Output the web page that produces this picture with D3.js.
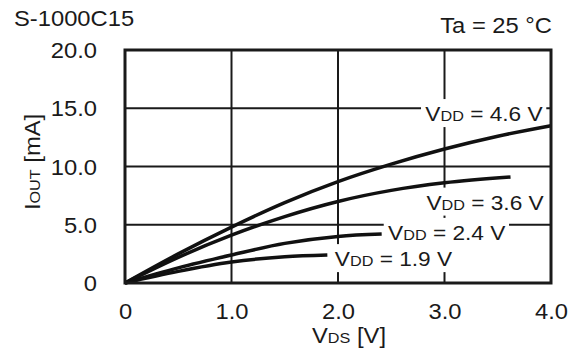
<!DOCTYPE html>
<html>
<head>
<meta charset="utf-8">
<script src="https://cdn.jsdelivr.net/npm/d3@7/dist/d3.min.js"></script>
<style>
    body { margin: 0; background: #fff; }
    svg text { font-family: "Liberation Sans", Arial, Helvetica, sans-serif; fill: #1a1a1a; }
</style>
</head>
<body>
<div id="chart"></div>
<script>
// tick values and labels
const vdsTicks = [0, 1, 2, 3, 4];
const vdsTickLabels = ['0', '1.0', '2.0', '3.0', '4.0'];
const ioutTicks = [0, 5, 10, 15, 20];
const ioutTickLabels = ['0', '5.0', '10.0', '15.0', '20.0'];

// curves (VDS [V] -> IOUT [mA])
const vddNames = ['4.6', '3.6', '2.4', '1.9'];
const vds46 = [0, 0.5, 1.0, 1.5, 2.0, 2.5, 3.0, 3.5, 4.0];
const iout46 = [0, 2.5, 4.8, 6.9, 8.7, 10.2, 11.5, 12.6, 13.5];
const vds36 = [0, 0.5, 1.0, 1.5, 2.0, 2.5, 3.0, 3.62];
const iout36 = [0, 2.2, 4.1, 5.7, 7.0, 7.95, 8.6, 9.1];
const vds24 = [0, 0.5, 1.0, 1.5, 2.0, 2.41];
const iout24 = [0, 1.3, 2.4, 3.4, 4.0, 4.2];
const vds19 = [0, 0.5, 1.0, 1.5, 1.9];
const iout19 = [0, 1.0, 1.8, 2.25, 2.4];

// where each VDD label sits (data units: start VDS, baseline IOUT)
const labelAt = [[2.82, 13.9], [2.83, 6.3], [2.47, 3.7], [1.97, 1.45]];

const W = 581, H = 360;
const SX = 1.08; // source lettering is slightly wide
const plot = { left: 125, right: 551, top: 50, bottom: 283 };

const svg = d3.select('#chart').append('svg')
    .attr('width', W)
    .attr('height', H);

const x = d3.scaleLinear().domain([0, 4]).range([plot.left, plot.right]);
const y = d3.scaleLinear().domain([0, 20]).range([plot.bottom, plot.top]);

// grid
const grid = svg.append('g').attr('stroke', '#1a1a1a').attr('stroke-width', 2);
grid.selectAll('.vg').data(vdsTicks.slice(1, -1)).enter().append('line')
    .attr('x1', d => x(d)).attr('x2', d => x(d))
    .attr('y1', plot.top).attr('y2', plot.bottom);
grid.selectAll('.hg').data(ioutTicks.slice(1, -1)).enter().append('line')
    .attr('y1', d => y(d)).attr('y2', d => y(d))
    .attr('x1', plot.left).attr('x2', plot.right);

const boxLayer = svg.append('g');

// curves
const series = [
    { name: vddNames[0], vds: vds46, iout: iout46 },
    { name: vddNames[1], vds: vds36, iout: iout36 },
    { name: vddNames[2], vds: vds24, iout: iout24 },
    { name: vddNames[3], vds: vds19, iout: iout19 }
];
const line = d3.line()
    .x(d => x(d[0]))
    .y(d => y(d[1]))
    .curve(d3.curveMonotoneX);

svg.append('g').selectAll('path')
    .data(series)
    .enter()
    .append('path')
    .attr('d', s => line(s.vds.map((v, i) => [v, s.iout[i]])))
    .attr('fill', 'none')
    .attr('stroke', '#111')
    .attr('stroke-width', 3.5);

// VDD labels with white boxes that cut the grid
series.forEach((s, i) => {
    const pos = labelAt[i];
    const tr = `translate(${x(pos[0])},${y(pos[1])}) scale(${SX},1)`;
    const g = svg.append('g').attr('transform', tr);
    const t = g.append('text').attr('font-size', 21);
    t.append('tspan').text('V');
    t.append('tspan').attr('font-size', 15).text('DD');
    t.append('tspan').text(` = ${s.name} V`);
    const bb = t.node().getBBox();
    boxLayer.append('rect')
        .attr('transform', tr)
        .attr('x', bb.x - 4)
        .attr('y', -22)
        .attr('width', bb.width + 7)
        .attr('height', 28)
        .attr('fill', '#fff');
});

// axes (labels only, grid drawn above)
const xAxis = svg.append('g')
    .attr('transform', `translate(0,${plot.bottom})`)
    .call(d3.axisBottom(x).tickValues(vdsTicks).tickSize(0)
        .tickFormat((d, i) => vdsTickLabels[i]));
xAxis.select('.domain').remove();
xAxis.selectAll('text')
    .attr('y', 20)
    .attr('dy', '0.71em')
    .attr('font-size', 22)
    .attr('fill', '#1a1a1a')
    .attr('transform', `scale(${SX},1)`);

const yAxis = svg.append('g')
    .attr('transform', `translate(${plot.left},0)`)
    .call(d3.axisLeft(y).tickValues(ioutTicks).tickSize(0)
        .tickFormat((d, i) => ioutTickLabels[i]));
yAxis.select('.domain').remove();
yAxis.selectAll('text')
    .attr('x', -26)
    .attr('dy', '0.35em')
    .attr('font-size', 22)
    .attr('fill', '#1a1a1a')
    .attr('transform', `scale(${SX},1)`);

// frame
svg.append('rect')
    .attr('x', plot.left)
    .attr('y', plot.top)
    .attr('width', plot.right - plot.left)
    .attr('height', plot.bottom - plot.top)
    .attr('fill', 'none')
    .attr('stroke', '#1a1a1a')
    .attr('stroke-width', 3);

// titles
const xt = svg.append('text')
    .attr('transform', `translate(349,343) scale(${SX},1)`)
    .attr('text-anchor', 'middle')
    .attr('font-size', 22);
xt.append('tspan').text('V');
xt.append('tspan').attr('font-size', 15).text('DS');
xt.append('tspan').text(' [V]');

const yt = svg.append('text')
    .attr('transform', `translate(40,162) rotate(-90) scale(${SX},1)`)
    .attr('text-anchor', 'middle')
    .attr('font-size', 22);
yt.append('tspan').text('I');
yt.append('tspan').attr('font-size', 15).text('OUT');
yt.append('tspan').text(' [mA]');

svg.append('text')
    .attr('transform', `translate(14,26) scale(${SX},1)`)
    .attr('font-size', 22)
    .text('S-1000C15');

svg.append('text')
    .attr('transform', `translate(552,33) scale(${SX},1)`)
    .attr('text-anchor', 'end')
    .attr('font-size', 22)
    .text('Ta = 25 °C');
</script>
</body>
</html>
